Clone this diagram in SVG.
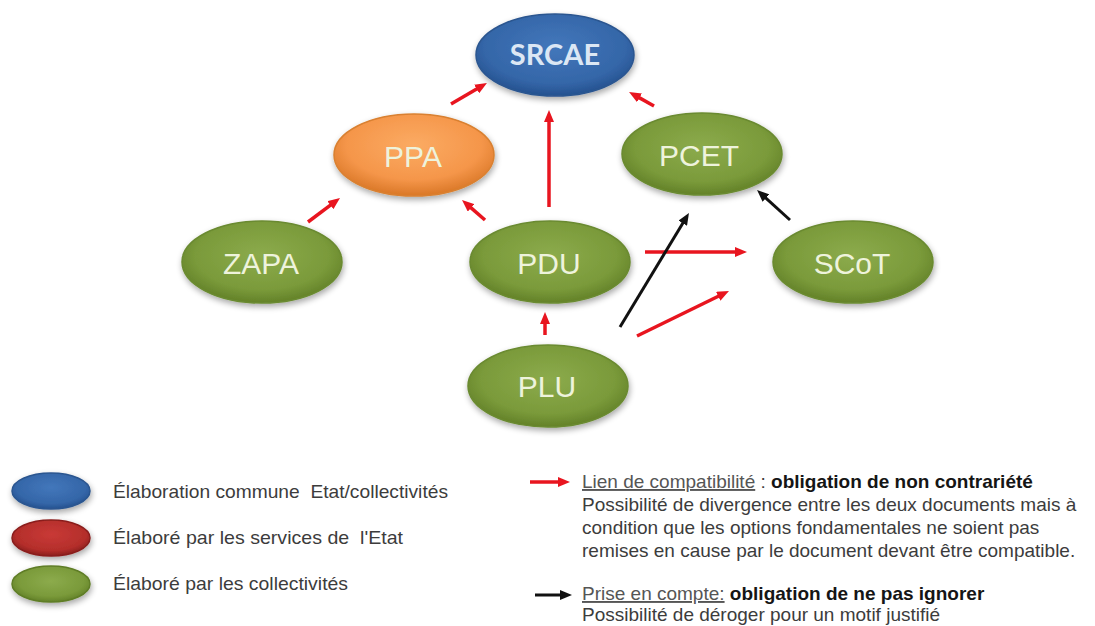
<svg xmlns="http://www.w3.org/2000/svg" width="1095" height="626" viewBox="0 0 1095 626">
  <defs>
    <radialGradient id="gGreen" cx="50%" cy="42%" r="60%">
      <stop offset="0%" stop-color="#8cab4c"/>
      <stop offset="70%" stop-color="#7a9a3a"/>
      <stop offset="100%" stop-color="#607e26"/>
    </radialGradient>
    <radialGradient id="gOrange" cx="50%" cy="38%" r="60%">
      <stop offset="0%" stop-color="#fbab63"/>
      <stop offset="70%" stop-color="#f5964a"/>
      <stop offset="100%" stop-color="#dc7a2a"/>
    </radialGradient>
    <radialGradient id="gBlue" cx="50%" cy="40%" r="60%">
      <stop offset="0%" stop-color="#4377bb"/>
      <stop offset="75%" stop-color="#3466a8"/>
      <stop offset="100%" stop-color="#25518f"/>
    </radialGradient>
    <radialGradient id="gRed" cx="50%" cy="40%" r="60%">
      <stop offset="0%" stop-color="#c93a36"/>
      <stop offset="75%" stop-color="#b42e2b"/>
      <stop offset="100%" stop-color="#8a1f1c"/>
    </radialGradient>
    <filter id="shadow" x="-20%" y="-30%" width="140%" height="160%">
      <feGaussianBlur in="SourceAlpha" stdDeviation="3"/>
      <feOffset dx="1" dy="3" result="b"/>
      <feComponentTransfer><feFuncA type="linear" slope="0.35"/></feComponentTransfer>
      <feMerge><feMergeNode/><feMergeNode in="SourceGraphic"/></feMerge>
    </filter>
    <marker id="hRed" viewBox="0 0 12 10" markerUnits="userSpaceOnUse" markerWidth="12" markerHeight="10" refX="3" refY="5" orient="auto">
      <path d="M0,0 L12,5 L0,10 z" fill="#e8151f"/>
    </marker>
    <marker id="hBlack" viewBox="0 0 12 10" markerUnits="userSpaceOnUse" markerWidth="12" markerHeight="10" refX="3" refY="5" orient="auto">
      <path d="M0,0 L12,5 L0,10 z" fill="#111111"/>
    </marker>
  </defs>
  <style>
    .node ellipse { filter: url(#shadow); stroke-width: 1.5; }
    .green { fill: url(#gGreen); stroke: #6a8a30; }
    .orange { fill: url(#gOrange); stroke: #d98030; }
    .blue { fill: url(#gBlue); stroke: #2c5690; }
    .lbl { font-family: "Liberation Sans", Arial, sans-serif; font-size: 30px; fill: #eef3dc; text-anchor: middle; }
    .lblB { font-family: Lato, "Liberation Sans", sans-serif; font-size: 29px; font-weight: bold; fill: #dce7f4; text-anchor: middle; }
    .red { stroke: #e8151f; stroke-width: 3.5; fill: none; marker-end: url(#hRed); }
    .blk { stroke: #111111; stroke-width: 3; fill: none; marker-end: url(#hBlack); }
    .leg { font-family: "Liberation Sans", Arial, sans-serif; font-size: 19px; fill: #3c3c3c; white-space: pre; }
    .u { text-decoration: underline; fill: #555555; }
    .b { font-weight: bold; fill: #151515; }
  </style>
  <rect width="1095" height="626" fill="#ffffff"/>

  <g id="connectors">
    <line class="red" x1="451" y1="104" x2="479.2" y2="87.5"/>
    <line class="red" x1="654" y1="106" x2="636.9" y2="96.4"/>
    <line class="red" x1="549" y1="207" x2="549" y2="119"/>
    <line class="red" x1="308" y1="222" x2="332.8" y2="203.4"/>
    <line class="red" x1="485" y1="220" x2="468.8" y2="205.9"/>
    <line class="red" x1="645" y1="252" x2="738" y2="252"/>
    <line class="red" x1="637" y1="336" x2="720.9" y2="295"/>
    <line class="red" x1="545" y1="335" x2="545" y2="321"/>
    <line class="blk" x1="620" y1="327" x2="684.3" y2="220.7"/>
    <line class="blk" x1="790" y1="220" x2="763.7" y2="196.1"/>
  </g>

  <g id="SRCAE" class="node">
    <ellipse class="blue" cx="555" cy="55" rx="79" ry="41"/>
    <text class="lblB" x="555" y="65">SRCAE</text>
  </g>
  <g id="PPA" class="node">
    <ellipse class="orange" cx="414" cy="155" rx="80" ry="41"/>
    <text class="lbl" x="413" y="167">PPA</text>
  </g>
  <g id="PCET" class="node">
    <ellipse class="green" cx="702" cy="154" rx="80" ry="41"/>
    <text class="lbl" x="699" y="166">PCET</text>
  </g>
  <g id="ZAPA" class="node">
    <ellipse class="green" cx="262" cy="262" rx="80" ry="41"/>
    <text class="lbl" x="261" y="274">ZAPA</text>
  </g>
  <g id="PDU" class="node">
    <ellipse class="green" cx="550" cy="262" rx="80" ry="41"/>
    <text class="lbl" x="549" y="274">PDU</text>
  </g>
  <g id="SCoT" class="node">
    <ellipse class="green" cx="853" cy="262" rx="80" ry="41"/>
    <text class="lbl" x="852" y="274">SCoT</text>
  </g>
  <g id="PLU" class="node">
    <ellipse class="green" cx="548" cy="386" rx="80" ry="41"/>
    <text class="lbl" x="547" y="397">PLU</text>
  </g>

  <g id="legend-colors">
    <ellipse cx="51" cy="491" rx="39" ry="18" fill="url(#gBlue)" stroke="#2c5690" stroke-width="1.5" filter="url(#shadow)"/>
    <ellipse cx="51" cy="538" rx="39" ry="18" fill="url(#gRed)" stroke="#8a1f1c" stroke-width="1.5" filter="url(#shadow)"/>
    <ellipse cx="51" cy="584" rx="39" ry="18" fill="url(#gGreen)" stroke="#5f7d27" stroke-width="1.5" filter="url(#shadow)"/>
    <text class="leg" x="113" y="498" textLength="335" lengthAdjust="spacingAndGlyphs">Élaboration commune  Etat/collectivités</text>
    <text class="leg" x="113" y="544" textLength="290" lengthAdjust="spacingAndGlyphs">Élaboré par les services de  l'Etat</text>
    <text class="leg" x="113" y="590" textLength="235" lengthAdjust="spacingAndGlyphs">Élaboré par les collectivités</text>
  </g>

  <g id="legend-links">
    <line class="red" x1="530" y1="482" x2="561" y2="482"/>
    <text class="leg" x="582" y="488"><tspan class="u">Lien de compatibilité</tspan> : <tspan class="b">obligation de non contrariété</tspan></text>
    <text class="leg" x="582" y="511">Possibilité de divergence entre les deux documents mais à</text>
    <text class="leg" x="582" y="534">condition que les options fondamentales ne soient pas</text>
    <text class="leg" x="582" y="557">remises en cause par le document devant être compatible.</text>
    <line class="blk" x1="535" y1="595" x2="563" y2="595"/>
    <text class="leg" x="582" y="600"><tspan class="u">Prise en compte:</tspan> <tspan class="b">obligation de ne pas ignorer</tspan></text>
    <text class="leg" x="582" y="621">Possibilité de déroger pour un motif justifié</text>
  </g>
</svg>
